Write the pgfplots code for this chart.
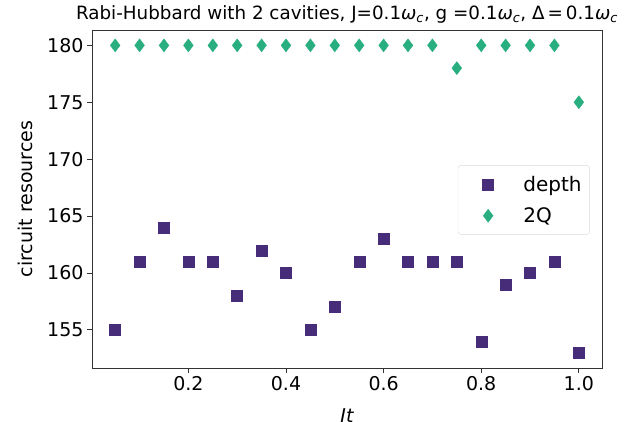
\documentclass[border=0pt]{standalone}
\usepackage{fontspec}
\setmainfont{DejaVu Sans}
\usepackage{pgfplots}
\pgfplotsset{compat=1.18}
\usetikzlibrary{calc}
\definecolor{depthc}{HTML}{472C7A}
\definecolor{twoq}{HTML}{29AF7F}
\definecolor{framec}{HTML}{333333}
\pgfplotsset{wideleg/.style={legend image code/.code={%
  \draw[##1] plot coordinates {(24pt,0pt)}; \path (0pt,0pt) (57pt,0pt);}}}

\begin{document}
\begin{tikzpicture}
\begin{axis}[
  name=ax,
  scale only axis,
  width=510pt, height=338pt,
  xmin=0.0025, xmax=1.0475,
  ymin=151.65, ymax=181.35,
  xtick={0.2,0.4,...,1.0},
  ytick={155,160,...,180},
  xticklabel style={/pgf/number format/.cd, fixed, fixed zerofill, precision=1},
  tick label style={font=\fontsize{19}{22}\selectfont},
  /pgf/number format/assume math mode=true,
  tick align=outside,
  xtick pos=bottom, ytick pos=left,
  major tick length=5pt,
  tick style={framec, line width=0.8pt},
  axis line style={framec, line width=0.8pt},
  title={Rabi-Hubbard with 2 cavities, J=0.1{\itshape ω}\textsubscript{\itshape c}, g =0.1{\itshape ω}\textsubscript{\itshape c}, Δ\,=\,0.1{\itshape ω}\textsubscript{\itshape c}},
  title style={font=\fontsize{18.3}{21}\selectfont, yshift=-3pt},
  xlabel={\itshape Jt},
  xlabel style={yshift=-11pt},
  ylabel={circuit resources},
  ylabel style={yshift=8pt},
  label style={font=\fontsize{19}{22}\selectfont},
  legend style={at={(0.976,0.60)}, anchor=north east,
    font=\fontsize{20}{23}\selectfont, draw=gray!30, rounded corners=3pt,
    row sep=11pt, inner xsep=6pt, inner ysep=8.5pt},
  legend cell align=left,
]
\addplot[only marks, forget plot, mark=square*, mark size=5.5pt, color=depthc] coordinates {
  (0.05,155) (0.10,161) (0.15,164) (0.20,161) (0.25,161)
  (0.30,158) (0.35,162) (0.40,160) (0.45,155) (0.50,157)
  (0.55,161) (0.60,163) (0.65,161) (0.70,161) (0.75,161)
  (0.80,154) (0.85,159) (0.90,160) (0.95,161) (1.00,153)};
\addplot[only marks, forget plot, mark=diamond*, mark size=6.5pt, color=twoq] coordinates {
  (0.05,180) (0.10,180) (0.15,180) (0.20,180) (0.25,180)
  (0.30,180) (0.35,180) (0.40,180) (0.45,180) (0.50,180)
  (0.55,180) (0.60,180) (0.65,180) (0.70,180) (0.75,178)
  (0.80,180) (0.85,180) (0.90,180) (0.95,180) (1.00,175)};
\addlegendimage{only marks, mark=square*, mark size=5.5pt, color=depthc, wideleg}
\addlegendentry{depth}
\addlegendimage{only marks, mark=diamond*, mark size=6.5pt, color=twoq, wideleg}
\addlegendentry{2Q}
\end{axis}
\pgfresetboundingbox
\path[use as bounding box] ($(ax.south west)+(-92pt,-53pt)$) rectangle ($(ax.north east)+(42pt,30pt)$);
\end{tikzpicture}
\end{document}
